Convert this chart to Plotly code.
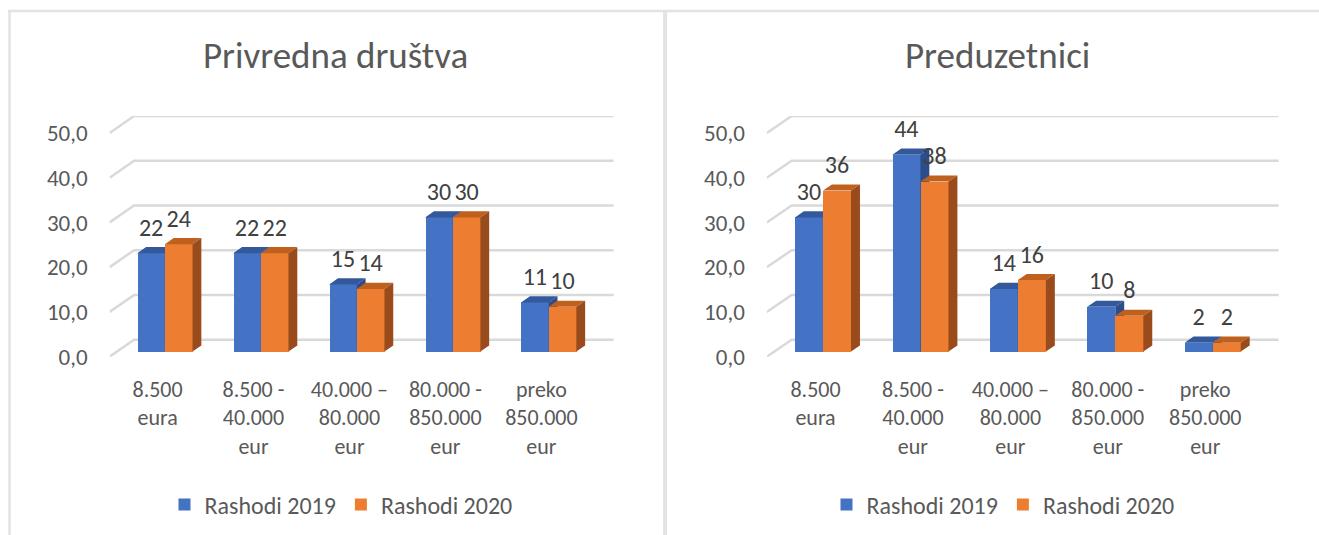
import plotly.graph_objects as go

# ---------------- data ----------------
categories = ["8.500<br>eura", "8.500 -<br>40.000<br>eur", "40.000 –<br>80.000<br>eur",
              "80.000 -<br>850.000<br>eur", "preko<br>850.000<br>eur"]
series_names = ["Rashodi 2019", "Rashodi 2020"]
privredna_2019 = [22, 22, 15, 30, 11]
privredna_2020 = [24, 22, 14, 30, 10]
preduzetnici_2019 = [30, 44, 14, 10, 2]
preduzetnici_2020 = [36, 38, 16, 8, 2]
y_tick_values = [0, 10, 20, 30, 40, 50]
y_tick_labels = ["0,0", "10,0", "20,0", "30,0", "40,0", "50,0"]
panel_titles = ["Privredna društva", "Preduzetnici"]

# ---------------- style ----------------
W, H = 1319, 535
FONT = "Calibri, Carlito, Lato, sans-serif"
TXT = "#595959"
LBL = "#404040"
GRID = "#D9D9D9"
FRONT = ["#4472C4", "#ED7D31"]
TOP = ["#34589C", "#C0601F"]
SIDE = ["#2D4D8A", "#9A4B1C"]

DDX, DDY = 0.255, 3.8        # depth offset of the back wall (x units, y units)
F0, BD = 0.30, 0.36           # bar front depth fraction, bar depth fraction
BW = 0.288                    # bar width
YMAX = 50 + DDY

fig = go.Figure()

panels = [
    (privredna_2019, privredna_2020, "x", "y", "legend"),
    (preduzetnici_2019, preduzetnici_2020, "x2", "y2", "legend2"),
]

for p, (s19, s20, xa, ya, lg) in enumerate(panels):
    n = len(categories)
    gx, gy = [], []
    for v in y_tick_values:
        gx += [-0.5, -0.5 + DDX, n - 0.5 + DDX, None]
        gy += [v, v + DDY, v + DDY, None]
    fig.add_trace(go.Scatter(x=gx, y=gy, mode="lines", line=dict(color=GRID, width=2.5),
                             xaxis=xa, yaxis=ya, showlegend=False, hoverinfo="skip", zorder=0))
    for s, vals in enumerate([s19, s20]):
        sign = -1 if s == 0 else 1
        xc = [i + sign * BW / 2 + F0 * DDX for i in range(n)]
        base = F0 * DDY
        fig.add_trace(go.Bar(x=xc, y=vals, base=base, width=BW, name=series_names[s],
                             marker=dict(color=FRONT[s], line=dict(width=0)),
                             xaxis=xa, yaxis=ya, legend=lg, showlegend=True,
                             zorder=1 + 2 * s))
        tx, ty, sx, sy = [], [], [], []
        for c, v in zip(xc, vals):
            x0, x1 = c - BW / 2, c + BW / 2
            top = base + v
            ox, oy = BD * DDX, BD * DDY
            tx += [x0, x1, x1 + ox, x0 + ox, x0, None]
            ty += [top, top, top + oy, top + oy, top, None]
            sx += [x1, x1 + ox, x1 + ox, x1, x1, None]
            sy += [base, base + oy, top + oy, top, base, None]
        fig.add_trace(go.Scatter(x=tx, y=ty, mode="lines", fill="toself", fillcolor=TOP[s],
                                 line=dict(width=0, color=TOP[s]), xaxis=xa, yaxis=ya,
                                 showlegend=False, hoverinfo="skip", zorder=2 + 2 * s))
        fig.add_trace(go.Scatter(x=sx, y=sy, mode="lines", fill="toself", fillcolor=SIDE[s],
                                 line=dict(width=0, color=SIDE[s]), xaxis=xa, yaxis=ya,
                                 showlegend=False, hoverinfo="skip", zorder=2 + 2 * s))
        fig.add_trace(go.Scatter(x=xc, y=[v + F0 * DDY + 5.25 for v in vals],
                                 mode="text", text=[str(v) for v in vals],
                                 textposition="middle center",
                                 textfont=dict(family=FONT, size=24, color=LBL),
                                 xaxis=xa, yaxis=ya, showlegend=False, hoverinfo="skip",
                                 zorder=6))

ydom = [1 - 356.7 / H, 1 - 116 / H]
xdoms = [[109.6 / W, 613.8 / W], [766.8 / W, 1278.8 / W]]

axis_common_x = dict(range=[-0.5, len(categories) - 0.5 + DDX], showgrid=False, zeroline=False,
                     showline=False, tickmode="array", tickvals=list(range(len(categories))),
                     ticktext=categories, ticks="", ticklabelstandoff=17, automargin=False,
                     tickfont=dict(family=FONT, size=22, color=TXT), fixedrange=True)
axis_common_y = dict(range=[0, YMAX], showgrid=False, zeroline=False, showline=False,
                     tickmode="array", tickvals=y_tick_values, ticktext=y_tick_labels,
                     ticks="", ticklabelstandoff=21, automargin=False,
                     tickfont=dict(family=FONT, size=23, color=TXT), fixedrange=True)

legend_common = dict(orientation="h", xanchor="center", yanchor="middle", y=1 - 505 / H,
                     font=dict(family=FONT, size=24, color=TXT), bgcolor="rgba(0,0,0,0)",
                     itemwidth=30, itemclick=False, itemdoubleclick=False)

fig.update_layout(
    width=W, height=H, autosize=False,
    margin=dict(l=0, r=0, t=0, b=0, pad=0, autoexpand=False),
    paper_bgcolor="white", plot_bgcolor="rgba(0,0,0,0)",
    barmode="overlay", bargap=0,
    xaxis=dict(domain=xdoms[0], anchor="y", **axis_common_x),
    yaxis=dict(domain=ydom, anchor="x", **axis_common_y),
    xaxis2=dict(domain=xdoms[1], anchor="y2", **axis_common_x),
    yaxis2=dict(domain=ydom, anchor="x2", **axis_common_y),
    legend=dict(x=341 / W, **legend_common),
    legend2=dict(x=1003 / W, **legend_common),
    showlegend=True,
    annotations=[
        dict(text=panel_titles[0], x=335.5 / W, y=1 - 55 / H, xref="paper", yref="paper",
             xanchor="center", yanchor="middle", showarrow=False,
             font=dict(family=FONT, size=37, color=TXT)),
        dict(text=panel_titles[1], x=998 / W, y=1 - 55 / H, xref="paper", yref="paper",
             xanchor="center", yanchor="middle", showarrow=False,
             font=dict(family=FONT, size=37, color=TXT)),
    ],
    shapes=[
        dict(type="line", xref="paper", yref="paper", x0=8 / W, x1=1, y0=1 - 11 / H, y1=1 - 11 / H,
             line=dict(color="#E3E3E3", width=2.5)),
        dict(type="line", xref="paper", yref="paper", x0=9.5 / W, x1=9.5 / W, y0=0, y1=1 - 10 / H,
             line=dict(color="#E3E3E3", width=2.5)),
        dict(type="line", xref="paper", yref="paper", x0=665 / W, x1=665 / W, y0=0, y1=1 - 10 / H,
             line=dict(color="#E3E3E3", width=4)),
    ],
)

fig.write_html("out.html", config={"displayModeBar": False},
               post_script="document.body.style.margin='0';document.body.style.overflow='hidden';")
